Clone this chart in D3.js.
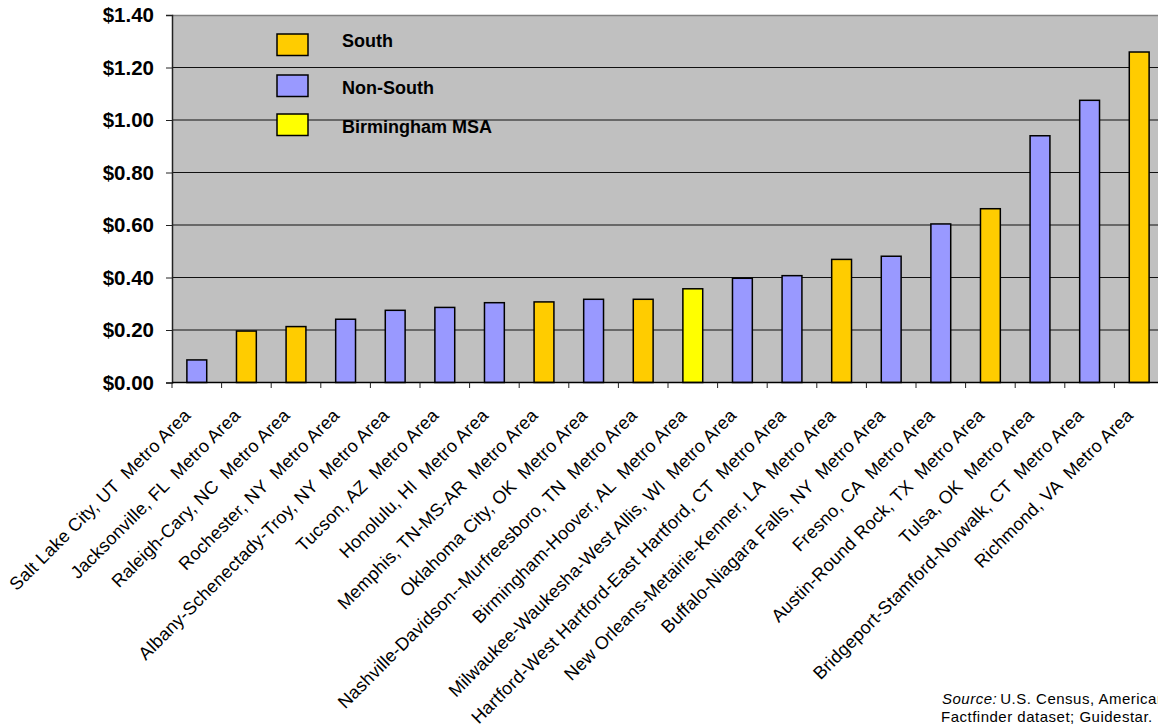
<!DOCTYPE html>
<html>
<head>
<meta charset="utf-8">
<script src="https://cdn.jsdelivr.net/npm/d3@7"></script>
<style>
  html, body { margin: 0; padding: 0; background: #fff; overflow: hidden; }
  svg { display: block; font-family: "Liberation Sans", Arial, sans-serif; }
</style>
</head>
<body>
<svg id="chart" width="1158" height="724"></svg>
<script>
const categories = [
  "Salt Lake City, UT  Metro Area",
  "Jacksonville, FL  Metro Area",
  "Raleigh-Cary, NC  Metro Area",
  "Rochester, NY  Metro Area",
  "Albany-Schenectady-Troy, NY  Metro Area",
  "Tucson, AZ  Metro Area",
  "Honolulu, HI  Metro Area",
  "Memphis, TN-MS-AR  Metro Area",
  "Oklahoma City, OK  Metro Area",
  "Nashville-Davidson--Murfreesboro, TN  Metro Area",
  "Birmingham-Hoover, AL  Metro Area",
  "Milwaukee-Waukesha-West Allis, WI  Metro Area",
  "Hartford-West Hartford-East Hartford, CT  Metro Area",
  "New Orleans-Metairie-Kenner, LA  Metro Area",
  "Buffalo-Niagara Falls, NY  Metro Area",
  "Fresno, CA  Metro Area",
  "Austin-Round Rock, TX  Metro Area",
  "Tulsa, OK  Metro Area",
  "Bridgeport-Stamford-Norwalk, CT  Metro Area",
  "Richmond, VA  Metro Area"
];
const values = [0.086, 0.196, 0.213, 0.241, 0.275, 0.286, 0.304, 0.307, 0.317, 0.317,
                0.357, 0.397, 0.407, 0.469, 0.481, 0.604, 0.662, 0.940, 1.075, 1.259];
const regions = ["Non-South", "South", "South", "Non-South", "Non-South", "Non-South", "Non-South",
                 "South", "Non-South", "South", "Birmingham MSA", "Non-South", "Non-South", "South",
                 "Non-South", "Non-South", "South", "Non-South", "Non-South", "South"];
const legendLabels = ["South", "Non-South", "Birmingham MSA"];
const legendColors = ["#FFCC00", "#9999FF", "#FFFF00"];
const yTicks = [0, 0.2, 0.4, 0.6, 0.8, 1.0, 1.2, 1.4];
const sourceLines = ["U.S. Census, American", "Factfinder dataset; Guidestar."];

const data = categories.map((c, i) => ({ name: c, value: values[i], region: regions[i] }));

const svg = d3.select("#chart");
const mLeft = 172, mRight = 1164, mTop = 15, mBottom = 382.5;

const color = d3.scaleOrdinal().domain(legendLabels).range(legendColors);

const x = d3.scaleBand().domain(categories).range([mLeft, mRight])
  .paddingInner(0.6).paddingOuter(0.3);
const y = d3.scaleLinear().domain([0, 1.4]).range([mBottom, mTop]);

// plot area
svg.append("rect")
  .attr("x", mLeft).attr("y", mTop)
  .attr("width", mRight - mLeft).attr("height", mBottom - mTop)
  .attr("fill", "#C0C0C0");
svg.append("line")
  .attr("x1", mLeft).attr("x2", mRight).attr("y1", mTop + 0.5).attr("y2", mTop + 0.5)
  .attr("stroke", "#808080").attr("stroke-width", 1.5);

// gridlines
svg.append("g").selectAll("line")
  .data(yTicks.filter(t => t > 0 && t < 1.4))
  .join("line")
  .attr("x1", mLeft).attr("x2", mRight)
  .attr("y1", d => y(d)).attr("y2", d => y(d))
  .attr("stroke", "#111").attr("stroke-width", 1);

// y axis
const yAxis = d3.axisLeft(y).tickValues(yTicks).tickSize(6).tickPadding(12)
  .tickFormat(d => "$" + d.toFixed(2));
const gy = svg.append("g").attr("transform", `translate(${mLeft},0)`).call(yAxis);
gy.select(".domain").attr("stroke", "#222").attr("stroke-width", 1.5);
gy.selectAll(".tick line").attr("stroke", "#222");
gy.selectAll(".tick text")
  .attr("font-family", "'Liberation Sans', Arial, sans-serif")
  .attr("font-size", 20.5).attr("font-weight", "bold").attr("fill", "#000");

// bars
svg.append("g").selectAll("rect")
  .data(data)
  .join("rect")
  .attr("x", d => x(d.name))
  .attr("y", d => y(d.value))
  .attr("width", x.bandwidth())
  .attr("height", d => y(0) - y(d.value))
  .attr("fill", d => color(d.region))
  .attr("stroke", "#000").attr("stroke-width", 1.5);

// x axis (category boundaries ticks)
const step = x.step();
const boundaries = d3.range(categories.length + 1).map(i => mLeft + i * step);
svg.append("line")
  .attr("x1", mLeft).attr("x2", mRight).attr("y1", mBottom).attr("y2", mBottom)
  .attr("stroke", "#000").attr("stroke-width", 1.5);
svg.append("g").selectAll("line")
  .data(boundaries)
  .join("line")
  .attr("x1", d => d).attr("x2", d => d)
  .attr("y1", mBottom).attr("y2", mBottom + 5.5)
  .attr("stroke", "#222").attr("stroke-width", 1);

// x labels
svg.append("g").selectAll("text")
  .data(data)
  .join("text")
  .attr("transform", d => `translate(${x(d.name) + x.bandwidth() / 2 - 5},${mBottom + 34}) rotate(-45)`)
  .attr("text-anchor", "end")
  .attr("font-size", 18)
  .attr("letter-spacing", 0.2)
  .attr("fill", "#000")
  .text(d => d.name.replace(/  /g, " \u00A0"));

// legend
const lg = svg.append("g");
const legendBoxY = [34, 75, 114];
const legendTextY = [41, 88, 127];
legendLabels.forEach((lab, i) => {
  lg.append("rect")
    .attr("x", 277).attr("y", legendBoxY[i])
    .attr("width", 31).attr("height", 21.5)
    .attr("fill", legendColors[i])
    .attr("stroke", "#000").attr("stroke-width", 1.5);
  lg.append("text")
    .attr("x", 342).attr("y", legendTextY[i])
    .attr("dy", "0.35em")
    .attr("font-size", 18).attr("font-weight", "bold")
    .attr("fill", "#000")
    .text(lab);
});

// source note
const src = svg.append("text").attr("font-size", 15).attr("letter-spacing", 0.5).attr("fill", "#000");
src.append("tspan").attr("x", 942).attr("y", 704)
  .attr("font-style", "italic").text("Source:");
src.append("tspan").attr("dx", 3).text(sourceLines[0]);
svg.append("text").attr("x", 941).attr("y", 721.5).attr("font-size", 15)
  .attr("letter-spacing", 0.5).attr("fill", "#000")
  .text(sourceLines[1]);
</script>
</body>
</html>
